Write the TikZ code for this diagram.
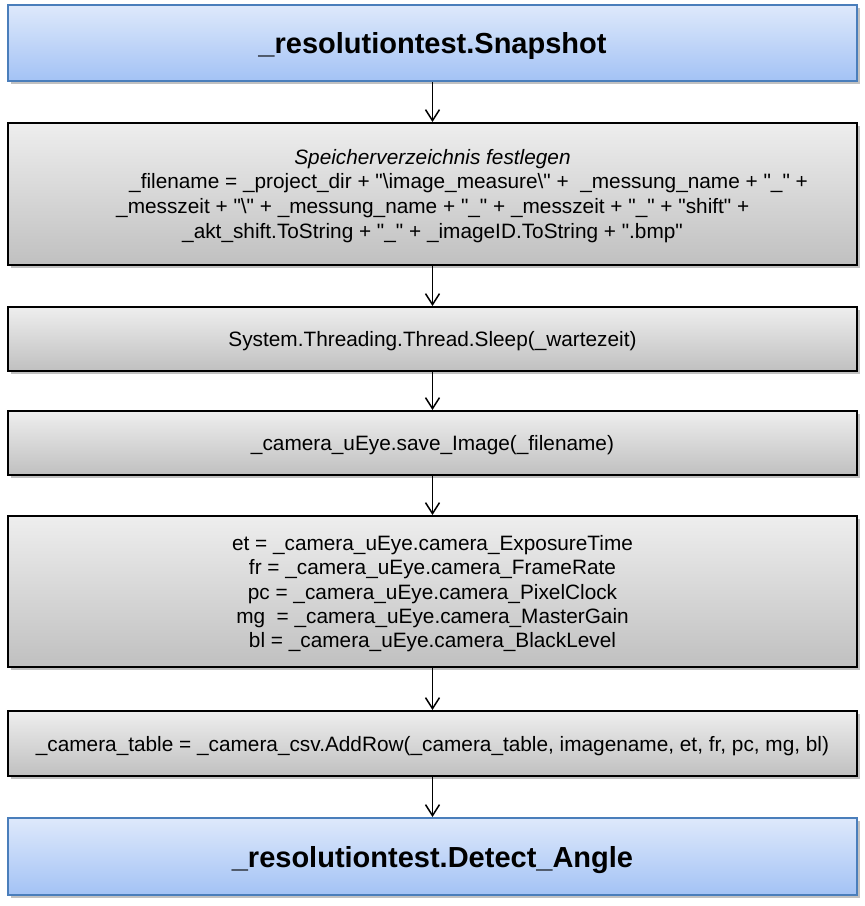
\documentclass[tikz,border=0pt]{standalone}
\usepackage{fontspec}
\setmainfont{Liberation Sans}
\usetikzlibrary{arrows.meta,shadows}
\definecolor{bluetop}{RGB}{222,233,251}
\definecolor{bluebot}{RGB}{163,194,245}
\definecolor{blueedge}{RGB}{74,126,187}
\definecolor{graytop}{RGB}{238,238,238}
\definecolor{graybot}{RGB}{192,192,192}
\newcommand\qq{\textquotedbl}
\tikzset{
  boxbase/.style={rectangle, minimum width=849pt, inner sep=0pt, align=center, text depth=0pt,
    drop shadow={shadow xshift=2.5pt, shadow yshift=-2.5pt, opacity=0.35, fill=black!70}},
  bluebox/.style={boxbase, draw=blueedge, line width=2pt, top color=bluetop, bottom color=bluebot,
    font=\fontsize{29}{34}\selectfont\bfseries},
  graybox/.style={boxbase, draw=black, line width=2pt, top color=graytop, bottom color=graybot,
    font=\fontsize{20.8}{24.4}\selectfont},
  txt/.style={inner sep=0pt, font=\fontsize{20.8}{24.4}\selectfont},
  flow/.style={line width=1.5pt, -{Straight Barb[length=11pt,width=14pt,line width=1.5pt]}}
}
\begin{document}
\begin{tikzpicture}[x=1pt,y=1pt]
\useasboundingbox (0,0) rectangle (865,-906);
\node[bluebox, minimum height=76pt] (b1) at (432.5,-43) {\_resolutiontest.Snapshot};
\node[graybox, minimum height=142pt] (b2) at (432.5,-194) {};
\node[txt, anchor=base] (b2a) at (432.5,-164) {\itshape Speicherverzeichnis festlegen};
\node[txt, anchor=base west] (b2b) at (129,-188.5) {\_filename = \_project\_dir + \qq\textbackslash image\_measure\textbackslash\qq{} +\ \ \_messung\_name + \qq\_\qq{} +};
\node[txt, anchor=base west] (b2c) at (116,-213.2) {\_messzeit + \qq\textbackslash\qq{} + \_messung\_name + \qq\_\qq{} + \_messzeit + \qq\_\qq{} + \qq shift\qq{} +};
\node[txt, anchor=base west] (b2d) at (182,-238) {\_akt\_shift.ToString + \qq\_\qq{} + \_imageID.ToString + \qq.bmp\qq};
\node[graybox, minimum height=64pt] (b3) at (432.5,-339) {System.Threading.Thread.Sleep(\_wartezeit)};
\node[graybox, minimum height=64pt] (b4) at (432.5,-443) {\_camera\_uEye.save\_Image(\_filename)};
\node[graybox, minimum height=151pt] (b5) at (432.5,-591.5) {et = \_camera\_uEye.camera\_ExposureTime\\
fr = \_camera\_uEye.camera\_FrameRate\\
pc = \_camera\_uEye.camera\_PixelClock\\
mg\ \ = \_camera\_uEye.camera\_MasterGain\\
bl = \_camera\_uEye.camera\_BlackLevel};
\node[graybox, minimum height=65pt] (b6) at (432.5,-743.5) {\_camera\_table = \_camera\_csv.AddRow(\_camera\_table, imagename, et, fr, pc, mg, bl)};
\node[bluebox, minimum height=77pt] (b7) at (432.5,-856.5) {\_resolutiontest.Detect\_Angle};
\draw[flow] (b1.south) -- (b2.north);
\draw[flow] (b2.south) -- (b3.north);
\draw[flow] (b3.south) -- (b4.north);
\draw[flow] (b4.south) -- (b5.north);
\draw[flow] (b5.south) -- (b6.north);
\draw[flow] (b6.south) -- (b7.north);
\end{tikzpicture}
\end{document}
